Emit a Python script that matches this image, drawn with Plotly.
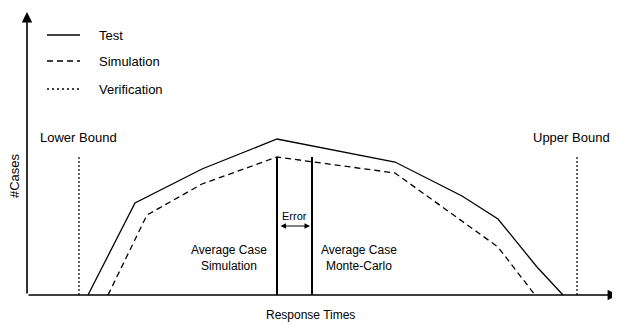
import plotly.graph_objects as go

# ---- data (response time units, case counts) ----
test_t = [61, 108, 175, 250, 368, 435, 471, 510, 536]
test_n = [0, 92, 126, 156, 133, 99, 76, 28, 0]
sim_t = [81, 120, 175, 250, 368, 471, 508]
sim_n = [0, 80, 111, 138, 122, 48, 0]
bound_t = [52, 550]
bound_labels = ["Lower Bound", "Upper Bound"]
bound_h = 139
avg_t = [250, 285]
avg_h = 138
avg_labels = ["Average Case<br>Simulation", "Average Case<br>Monte-Carlo"]
avg_label_t = [202, 332]
error_n = 69
legend_names = ["Test", "Simulation", "Verification"]
legend_dash = ["solid", "6px,4px", "2px,3px"]
legend_n = [260, 234, 206]

FONT = "Liberation Sans, Arial, Helvetica, sans-serif"
fig = go.Figure()

fig.add_trace(go.Scatter(x=test_t, y=test_n, mode="lines",
                         line=dict(color="black", width=1.3), showlegend=False))
fig.add_trace(go.Scatter(x=sim_t, y=sim_n, mode="lines",
                         line=dict(color="black", width=1.3, dash="6px,4px"), showlegend=False))
for bt in bound_t:
    fig.add_trace(go.Scatter(x=[bt, bt], y=[0, bound_h], mode="lines",
                             line=dict(color="black", width=1.2, dash="2px,2px"), showlegend=False))
for at in avg_t:
    fig.add_trace(go.Scatter(x=[at, at], y=[0, avg_h], mode="lines",
                             line=dict(color="black", width=2), showlegend=False))

# legend (manual)
for name, dash, ln in zip(legend_names, legend_dash, legend_n):
    fig.add_trace(go.Scatter(x=[20, 53], y=[ln, ln], mode="lines",
                             line=dict(color="black", width=1.3, dash=dash), showlegend=False))
    fig.add_annotation(x=70, y=ln, text=name, showarrow=False, xanchor="left",
                       font=dict(size=13, family=FONT, color="black"))

# axes with arrows
fig.add_annotation(x=0, y=283, ax=0, ay=0, axref="x", ayref="y", xref="x", yref="y",
                   showarrow=True, arrowhead=2, arrowsize=1.3, arrowwidth=1.6, arrowcolor="black", text="")
fig.add_annotation(x=591, y=0, ax=0, ay=0, axref="x", ayref="y", xref="x", yref="y",
                   showarrow=True, arrowhead=2, arrowsize=1.3, arrowwidth=1.6, arrowcolor="black", text="")

# error arrow
fig.add_annotation(x=avg_t[1] - 2, y=error_n, ax=avg_t[0] + 2, ay=error_n, axref="x", ayref="y",
                   showarrow=True, arrowhead=2, startarrowhead=2, arrowside="end+start",
                   arrowsize=1, arrowwidth=1.1, arrowcolor="black", text="")
fig.add_annotation(x=(avg_t[0] + avg_t[1]) / 2, y=error_n + 10, text="Error", showarrow=False,
                   font=dict(size=11, family=FONT, color="black"))

for bt, lab in zip(bound_t, bound_labels):
    fig.add_annotation(x=bt - (1 if bt < 300 else 6), y=bound_h + 19, text=lab, showarrow=False,
                       font=dict(size=13, family=FONT, color="black"))
for lt, lab in zip(avg_label_t, avg_labels):
    fig.add_annotation(x=lt, y=37, text=lab, showarrow=False,
                       font=dict(size=12, family=FONT, color="black"))

fig.add_annotation(x=283, y=-20, text="Response Times", showarrow=False,
                   font=dict(size=12, family=FONT, color="black"))
fig.add_annotation(x=-13, y=119, text="#Cases", showarrow=False, textangle=-90,
                   borderpad=0, font=dict(size=13, family=FONT, color="black"))

# page body has an 8px margin, so the figure is 8px smaller and ranges start 8px in
fig.update_xaxes(range=[-19, 593], visible=False)
fig.update_yaxes(range=[-29, 287], visible=False)
fig.update_layout(width=612, height=316, margin=dict(l=0, r=0, t=0, b=0),
                  plot_bgcolor="white", paper_bgcolor="white", showlegend=False)

fig.write_html("out.html")
